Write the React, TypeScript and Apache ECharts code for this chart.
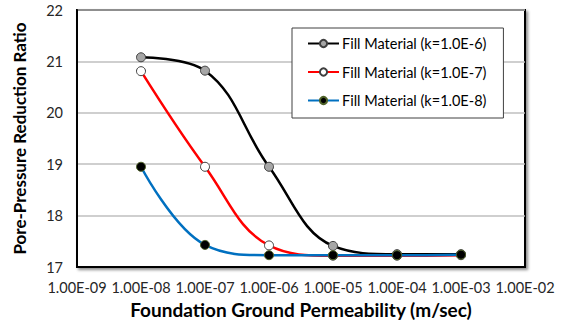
import React, { useEffect, useRef } from "react";
import * as echarts from "echarts";

const permeability = [1e-8, 1e-7, 1e-6, 1e-5, 1e-4, 1e-3];
const seriesNames = [
  "Fill Material (k=1.0E-6)",
  "Fill Material (k=1.0E-7)",
  "Fill Material (k=1.0E-8)",
];
const fill6 = [21.08, 20.82, 18.95, 17.41, 17.25, 17.25];
const fill7 = [20.81, 18.95, 17.42, 17.22, 17.22, 17.23];
const fill8 = [18.95, 17.43, 17.23, 17.23, 17.23, 17.24];

const font = "Lato, 'Open Sans', sans-serif";

function fmtExp(v: number): string {
  const e = Math.round(Math.log10(v));
  const sign = e < 0 ? "-" : "+";
  const abs = Math.abs(e);
  return "1.00E" + sign + (abs < 10 ? "0" + abs : String(abs));
}

export default function App() {
  const ref = useRef<HTMLDivElement>(null);
  useEffect(() => {
    document.body.style.margin = "0";
    if (!ref.current) return;
    const chart = echarts.init(ref.current, null, { renderer: "svg" });
    const mk = (vals: number[]) => permeability.map((x, i) => [x, vals[i]]);
    const styles = [
      { line: "#000000", fill: "#a6a6a6", border: "#404040" },
      { line: "#ff0000", fill: "#ffffff", border: "#404040" },
      { line: "#0070c0", fill: "#000000", border: "#4f6228" },
    ];
    const datas = [fill6, fill7, fill8];
    chart.setOption({
      animation: false,
      backgroundColor: "#ffffff",
      textStyle: { fontFamily: font },
      grid: {
        left: 77,
        top: 10,
        right: 40,
        bottom: 65,
        show: true,
        borderColor: "#000000",
        borderWidth: 2,
        backgroundColor: "#ffffff",
        shadowColor: "rgba(0,0,0,0.45)",
        shadowBlur: 3,
        shadowOffsetX: 2,
        shadowOffsetY: 2,
      },
      legend: {
        orient: "vertical",
        left: 292,
        top: 28,
        backgroundColor: "#ffffff",
        borderColor: "#404040",
        borderWidth: 1,
        padding: [7, 17, 9, 15],
        itemGap: 11.5,
        itemWidth: 31,
        itemHeight: 9,
        textStyle: {
          fontFamily: font,
          fontSize: 14.5,
          lineHeight: 17,
          color: "#000000",
          padding: [0, 0, 0, -2],
        },
        data: seriesNames,
      },
      xAxis: {
        type: "log",
        logBase: 10,
        min: 1e-9,
        max: 1e-2,
        name: "Foundation Ground Permeability (m/sec)",
        nameLocation: "middle",
        nameGap: 31,
        nameTextStyle: { fontFamily: font, fontSize: 19, fontWeight: "bold", color: "#000000" },
        axisLine: { show: true, lineStyle: { color: "#000000", width: 2 } },
        axisTick: { show: false },
        splitLine: { show: false },
        axisLabel: {
          fontFamily: font,
          fontSize: 14.5,
          color: "#262626",
          margin: 13,
          formatter: (v: number) => fmtExp(v),
        },
      },
      yAxis: {
        type: "value",
        min: 17,
        max: 22,
        interval: 1,
        name: "Pore-Pressure Reduction Ratio",
        nameLocation: "middle",
        nameRotate: 90,
        nameGap: 49,
        nameTextStyle: { fontFamily: font, fontSize: 17, fontWeight: "bold", color: "#000000" },
        axisLine: { show: true, lineStyle: { color: "#000000", width: 2 } },
        axisTick: { show: false },
        splitLine: { show: true, lineStyle: { color: "#bfbfbf", width: 1.5 } },
        axisLabel: { fontFamily: font, fontSize: 14.5, color: "#262626", margin: 14 },
      },
      series: datas.map((d, i) => ({
        name: seriesNames[i],
        type: "line",
        data: mk(d),
        smooth: 0.4,
        symbol: "circle",
        symbolSize: 9,
        lineStyle: { color: styles[i].line, width: 2.5 },
        itemStyle: { color: styles[i].fill, borderColor: styles[i].border, borderWidth: 1 },
        z: 2 + i,
      })),
    });
    return () => chart.dispose();
  }, []);
  return <div ref={ref} style={{ width: 565, height: 332 }} />;
}
